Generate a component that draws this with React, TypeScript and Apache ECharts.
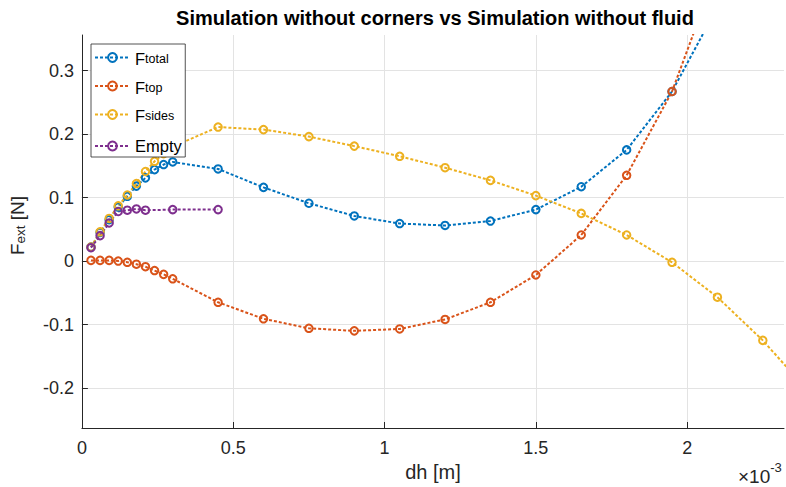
import React, { useEffect, useRef } from "react";
import * as echarts from "echarts";

// dh in metres
const dhMain = [
  0.03e-3, 0.06e-3, 0.09e-3, 0.12e-3, 0.15e-3, 0.18e-3, 0.21e-3, 0.24e-3, 0.27e-3, 0.3e-3,
  0.45e-3, 0.6e-3, 0.75e-3, 0.9e-3, 1.05e-3, 1.2e-3, 1.35e-3, 1.5e-3, 1.65e-3, 1.8e-3,
  1.95e-3, 2.1e-3, 2.25e-3, 2.4e-3,
];
const dhEmpty = [0.03e-3, 0.06e-3, 0.09e-3, 0.12e-3, 0.15e-3, 0.18e-3, 0.21e-3, 0.3e-3, 0.45e-3];

// forces in N
const fTotal = [
  0.022, 0.045, 0.065, 0.085, 0.102, 0.118, 0.131, 0.144, 0.152, 0.156,
  0.145, 0.116, 0.091, 0.071, 0.059, 0.056, 0.063, 0.081, 0.117, 0.175,
  0.267, 0.4,
];
const fTop = [
  0.001, 0.001, 0.001, 0.0, -0.002, -0.005, -0.009, -0.015, -0.021, -0.028,
  -0.065, -0.091, -0.106, -0.11, -0.107, -0.092, -0.065, -0.022, 0.041, 0.135,
  0.267, 0.46,
];
const fSides = [
  0.022, 0.046, 0.067, 0.087, 0.104, 0.122, 0.141, 0.157, 0.169, 0.18,
  0.211, 0.207, 0.196, 0.181, 0.165, 0.147, 0.127, 0.103, 0.075, 0.041,
  -0.002, -0.057, -0.125, -0.205,
];
const fEmpty = [0.021, 0.04, 0.06, 0.078, 0.08, 0.082, 0.08, 0.081, 0.081];

const seriesNames = ["F_total", "F_top", "F_sides", "Empty"];
const seriesColors = ["#0072BD", "#D95319", "#EDB120", "#7E2F8E"];

const xTicksUnit = 1e-3;
const xMax = 2.32e-3;
const yMin = -0.263;
const yMax = 0.356;

const INK = "#262626";
const GRID = "#e3e3e3";
const FONT = "'Liberation Sans', Arial, Helvetica, sans-serif";

function pairs(xs: number[], ys: number[]) {
  return ys.map((y, i) => [xs[i], y]);
}

function lineSeries(name: string, data: number[][], color: string) {
  return {
    name,
    type: "line",
    data,
    symbol: "circle",
    symbolSize: 7.5,
    showSymbol: true,
    clip: true,
    lineStyle: { color, width: 2, type: [3, 2], cap: "butt" },
    itemStyle: { color: "rgba(255,255,255,0)", borderColor: color, borderWidth: 2 },
    emphasis: { disabled: true },
  };
}

export default function App() {
  const ref = useRef<HTMLDivElement>(null);

  useEffect(() => {
    const chart = echarts.init(ref.current!, null, { renderer: "svg" });

    const option = {
      animation: false,
      backgroundColor: "#ffffff",
      textStyle: { fontFamily: FONT },
      title: {
        text: "Simulation without corners vs Simulation without fluid",
        left: 435,
        textAlign: "center",
        top: 8,
        padding: 0,
        textStyle: { fontFamily: FONT, fontSize: 20, fontWeight: "bold", color: "#000" },
      },
      grid: { left: 81, right: 2, top: 35, bottom: 59, containLabel: false },
      legend: {
        orient: "vertical",
        left: 91,
        top: 44,
        padding: [5.5, 3.5, 0, 3],
        itemGap: 6.5,
        itemWidth: 35,
        itemHeight: 11,
        z: 6,
        backgroundColor: "#ffffff",
        borderColor: INK,
        borderWidth: 0.8,
        selectedMode: false,
        data: seriesNames,
        formatter: (n: string) =>
          n.startsWith("F_") ? `{f|F}{s|${n.slice(2)}}` : `{e|${n}}`,
        textStyle: {
          fontFamily: FONT,
          fontSize: 16,
          color: "#000",
          rich: {
            f: { fontSize: 16.5, lineHeight: 16, padding: [1, 0, 4, 0], verticalAlign: "top", fontFamily: FONT, color: "#000" },
            s: { fontSize: 12.5, lineHeight: 12.5, verticalAlign: "bottom", fontFamily: FONT, color: "#000" },
            e: { fontSize: 16.5, lineHeight: 16, padding: [2.5, 0, 2.5, 0], verticalAlign: "middle", fontFamily: FONT, color: "#000" },
          },
        },
      },
      graphic: [
        {
          type: "text",
          x: 738,
          y: 461,
          style: {
            text: "{a|×10}{b|-3}",
            rich: {
              a: { fontSize: 19, lineHeight: 18, padding: [6, 0, 0, 0], verticalAlign: "top", fontFamily: FONT, fill: INK },
              b: { fontSize: 13, lineHeight: 13, verticalAlign: "top", fontFamily: FONT, fill: INK },
            },
          },
          silent: true,
        },
      ],
      xAxis: {
        type: "value",
        min: 0,
        max: xMax,
        name: "dh [m]",
        nameLocation: "middle",
        nameGap: 27,
        nameTextStyle: { fontFamily: FONT, fontSize: 20, color: INK },
        axisLine: { show: true, onZero: false, lineStyle: { color: INK, width: 1 } },
        axisTick: { show: true, inside: true, length: 6, lineStyle: { color: INK, width: 1 } },
        axisLabel: {
          color: INK,
          fontSize: 18,
          fontFamily: FONT,
          margin: 11,
          showMaxLabel: false,
          formatter: (v: number) => String(+(v / xTicksUnit).toFixed(4)),
        },
        splitLine: { show: true, showMaxLine: false, lineStyle: { color: GRID, width: 1 } },
      },
      yAxis: {
        type: "value",
        min: yMin,
        max: yMax,
        name: "{f|F}{s|ext}{f| [N]}",
        nameLocation: "middle",
        nameRotate: 90,
        nameGap: 44,
        nameTextStyle: {
          color: INK,
          fontFamily: FONT,
          padding: [0, 0, 0, 12],
          rich: {
            f: { fontSize: 19, lineHeight: 19, padding: [0, 0, 5, 0], verticalAlign: "top", fontFamily: FONT, color: INK },
            s: { fontSize: 13.5, lineHeight: 13.5, verticalAlign: "bottom", fontFamily: FONT, color: INK },
          },
        },
        axisLine: { show: true, onZero: false, lineStyle: { color: INK, width: 1 } },
        axisTick: { show: true, inside: true, length: 6, lineStyle: { color: INK, width: 1 } },
        axisLabel: {
          color: INK,
          fontSize: 18,
          fontFamily: FONT,
          margin: 8,
          showMinLabel: false,
          showMaxLabel: false,
        },
        splitLine: { show: true, showMaxLine: false, showMinLine: false, lineStyle: { color: GRID, width: 1 } },
      },
      series: [
        lineSeries(seriesNames[0], pairs(dhMain, fTotal), seriesColors[0]),
        lineSeries(seriesNames[1], pairs(dhMain, fTop), seriesColors[1]),
        lineSeries(seriesNames[2], pairs(dhMain, fSides), seriesColors[2]),
        lineSeries(seriesNames[3], pairs(dhEmpty, fEmpty), seriesColors[3]),
      ],
    };

    chart.setOption(option as any);
    return () => chart.dispose();
  }, []);

  return (
    <div
      ref={ref}
      style={{ position: "fixed", left: 0, top: 0, width: 786, height: 487, background: "#fff" }}
    />
  );
}
